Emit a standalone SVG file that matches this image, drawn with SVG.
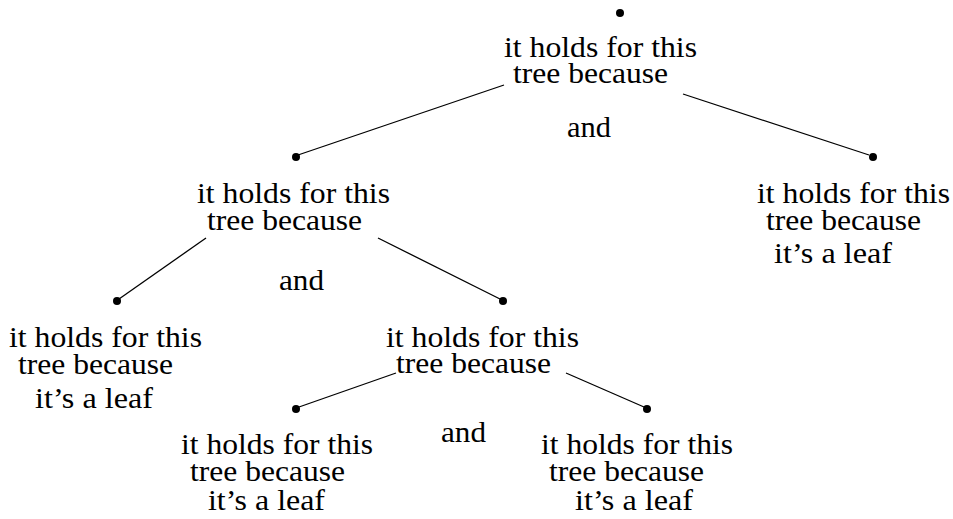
<svg xmlns="http://www.w3.org/2000/svg" width="953" height="519" viewBox="0 0 953 519">
<style>
  .edge { stroke: #000; stroke-width: 1.3; fill: none; }
  .dot { fill: #000; }
  text { font-family: "Liberation Serif", "Times New Roman", serif; font-size: 30px; fill: #000; }
</style>
<rect width="953" height="519" fill="#fff"/>
<g id="connectors">
  <line class="edge" x1="504" y1="85" x2="298" y2="155"/>
  <line class="edge" x1="683" y1="94" x2="869" y2="155"/>
  <line class="edge" x1="206" y1="238" x2="119" y2="299"/>
  <line class="edge" x1="378" y1="238" x2="500" y2="299"/>
  <line class="edge" x1="396" y1="373" x2="299" y2="407"/>
  <line class="edge" x1="566" y1="373" x2="644" y2="407"/>
</g>
<g id="root">
  <circle class="dot" cx="620" cy="13" r="4"/>
  <text x="504" y="57" textLength="193" lengthAdjust="spacingAndGlyphs">it holds for this</text>
  <text x="513" y="83" textLength="155" lengthAdjust="spacingAndGlyphs">tree because</text>
  <text x="567" y="137" textLength="44" lengthAdjust="spacingAndGlyphs">and</text>
</g>
<g id="node-left">
  <circle class="dot" cx="296" cy="157" r="4"/>
  <text x="197" y="203" textLength="193" lengthAdjust="spacingAndGlyphs">it holds for this</text>
  <text x="207" y="230" textLength="155" lengthAdjust="spacingAndGlyphs">tree because</text>
  <text x="279" y="290" textLength="45" lengthAdjust="spacingAndGlyphs">and</text>
</g>
<g id="node-right">
  <circle class="dot" cx="873" cy="157" r="4"/>
  <text x="757" y="203" textLength="193" lengthAdjust="spacingAndGlyphs">it holds for this</text>
  <text x="766" y="230" textLength="155" lengthAdjust="spacingAndGlyphs">tree because</text>
  <text x="774" y="263" textLength="118" lengthAdjust="spacingAndGlyphs">it’s a leaf</text>
</g>
<g id="node-left-left">
  <circle class="dot" cx="117" cy="301" r="4"/>
  <text x="9" y="347" textLength="193" lengthAdjust="spacingAndGlyphs">it holds for this</text>
  <text x="18" y="374" textLength="155" lengthAdjust="spacingAndGlyphs">tree because</text>
  <text x="35" y="408" textLength="118" lengthAdjust="spacingAndGlyphs">it’s a leaf</text>
</g>
<g id="node-left-right">
  <circle class="dot" cx="503" cy="301" r="4"/>
  <text x="386" y="347" textLength="193" lengthAdjust="spacingAndGlyphs">it holds for this</text>
  <text x="396" y="373" textLength="155" lengthAdjust="spacingAndGlyphs">tree because</text>
  <text x="441" y="442" textLength="45" lengthAdjust="spacingAndGlyphs">and</text>
</g>
<g id="node-lr-left">
  <circle class="dot" cx="296" cy="409" r="4"/>
  <text x="181" y="454" textLength="192" lengthAdjust="spacingAndGlyphs">it holds for this</text>
  <text x="190" y="481" textLength="155" lengthAdjust="spacingAndGlyphs">tree because</text>
  <text x="208" y="510" textLength="117" lengthAdjust="spacingAndGlyphs">it’s a leaf</text>
</g>
<g id="node-lr-right">
  <circle class="dot" cx="647" cy="409" r="4"/>
  <text x="541" y="454" textLength="192" lengthAdjust="spacingAndGlyphs">it holds for this</text>
  <text x="549" y="481" textLength="155" lengthAdjust="spacingAndGlyphs">tree because</text>
  <text x="575" y="510" textLength="118" lengthAdjust="spacingAndGlyphs">it’s a leaf</text>
</g>
</svg>
